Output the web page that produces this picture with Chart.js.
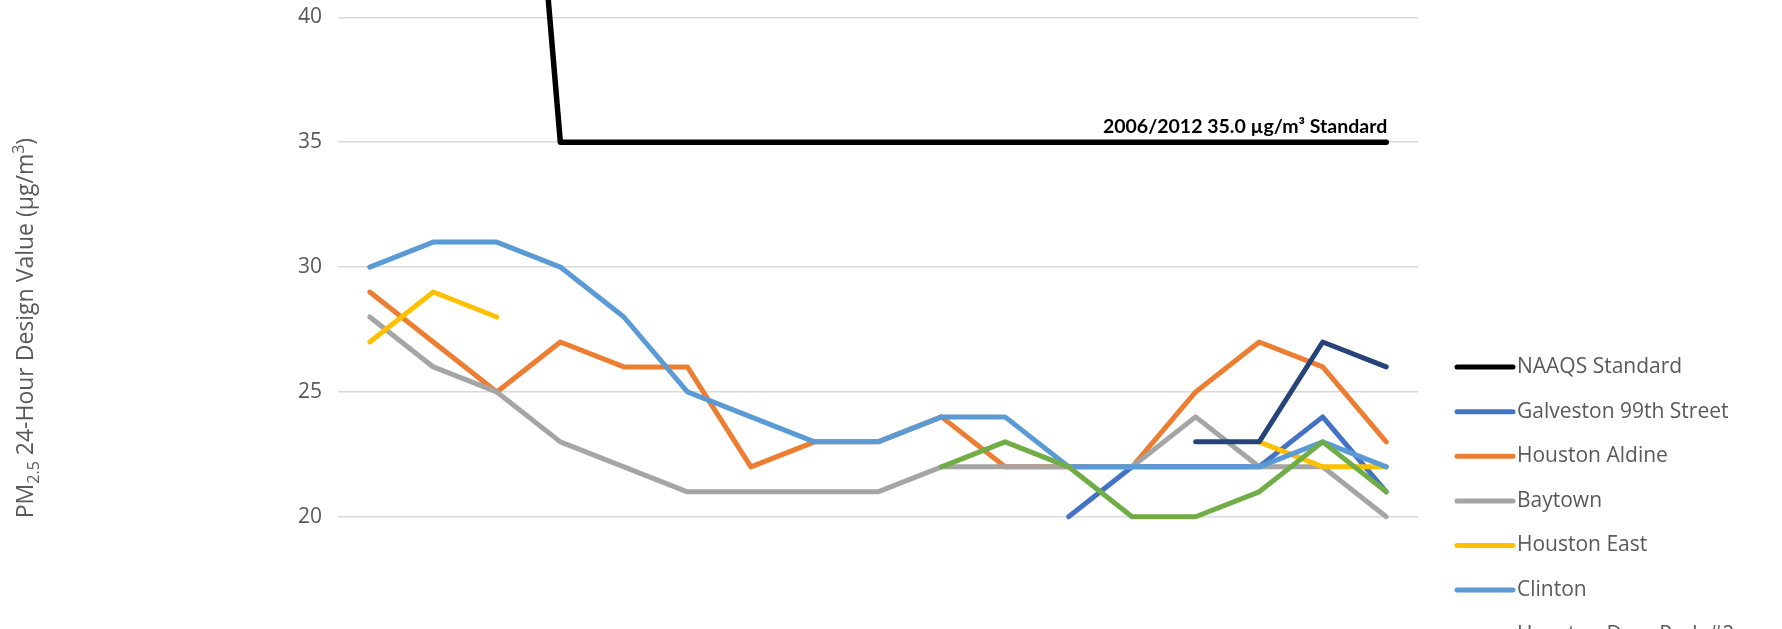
<!DOCTYPE html>
<html>
<head>
<meta charset="utf-8">
<script src="https://cdn.jsdelivr.net/npm/chart.js@4.4.1/dist/chart.umd.min.js"></script>
<style>
  html, body { margin: 0; padding: 0; background: #fff; overflow: hidden; }
  /* the picture only shows a slice of the full chart, so the canvas is taller and shifted up */
  #wrap { position: absolute; left: 0; top: -260px; width: 1782px; }
</style>
</head>
<body>
<div id="wrap"><canvas id="chart" width="1782" height="1110"></canvas></div>
<script>
const years = ['2003', '2004', '2005', '2006', '2007', '2008', '2009', '2010', '2011',
               '2012', '2013', '2014', '2015', '2016', '2017', '2018', '2019'];

const naaqs       = [65, 65, 65, 35, 35, 35, 35, 35, 35, 35, 35, 35, 35, 35, 35, 35, 35];
const galveston   = [null, null, null, null, null, null, null, null, null, null, null, 20, 22, 22, 22, 24, 21];
const aldine      = [29, 27, 25, 27, 26, 26, 22, 23, 23, 24, 22, 22, 22, 25, 27, 26, 23];
const baytown     = [28, 26, 25, 23, 22, 21, 21, 21, 21, 22, 22, 22, 22, 24, 22, 22, 20];
const houstonEast = [27, 29, 28, null, null, null, null, null, null, null, null, null, null, null, 23, 22, 22];
const clinton     = [30, 31, 31, 30, 28, 25, 24, 23, 23, 24, 24, 22, 22, 22, 22, 23, 22];
const deerPark    = [null, null, null, null, null, null, null, null, null, 22, 23, 22, 20, 20, 21, 23, 21];
const northLoop   = [null, null, null, null, null, null, null, null, null, null, null, null, null, 23, 23, 27, 26];

const seriesNames = ['NAAQS Standard', 'Galveston 99th Street', 'Houston Aldine', 'Baytown',
                     'Houston East', 'Clinton', 'Houston Deer Park #2', 'Houston North Loop'];
const seriesData = [naaqs, galveston, aldine, baytown, houstonEast, clinton, deerPark, northLoop];
const seriesColors = ['#000000', '#4472C4', '#ED7D31', '#A5A5A5', '#FFC000', '#5B9BD5', '#70AD47', '#264478'];

const yTicks = [10, 15, 20, 25, 30, 35, 40, 45, 50];
const standardLabel = '2006/2012 35.0 µg/m³ Standard';
const yTitleParts = [
  { text: 'PM', small: false, shift: 0 },
  { text: '2.5', small: true, shift: 6 },
  { text: ' 24-Hour Design Value (µg/m', small: false, shift: 0 },
  { text: '3', small: true, shift: -9 },
  { text: ')', small: false, shift: 0 }
];

const grey = '#595959';

// y title (with sub/superscript), the standard's data label and the legend on the right
const extras = {
  id: 'extras',
  afterDraw(chart) {
    const ctx = chart.ctx;
    const area = chart.chartArea;
    const xs = chart.scales.x;
    const ys = chart.scales.y;

    ctx.save();
    const last = naaqs.length - 1;
    ctx.font = 'bold 19.5px Lato';
    ctx.fillStyle = '#000';
    ctx.textAlign = 'right';
    ctx.textBaseline = 'alphabetic';
    ctx.fillText(standardLabel, xs.getPixelForValue(last) + 1, ys.getPixelForValue(naaqs[last]) - 9);
    ctx.restore();

    // axis title, rotated
    ctx.save();
    const big = '23px "Open Sans"';
    const small = '16px "Open Sans"';
    let total = 0;
    yTitleParts.forEach(p => {
      ctx.font = p.small ? small : big;
      total += ctx.measureText(p.text).width;
    });
    ctx.translate(33, (area.top + area.bottom) / 2 + 61);
    ctx.rotate(-Math.PI / 2);
    ctx.fillStyle = grey;
    ctx.textAlign = 'left';
    ctx.textBaseline = 'alphabetic';
    let x = -total / 2;
    yTitleParts.forEach(p => {
      ctx.font = p.small ? small : big;
      ctx.fillText(p.text, x, p.shift);
      x += ctx.measureText(p.text).width;
    });
    ctx.restore();

    // legend
    ctx.save();
    const lx = area.right + 39;
    chart.data.datasets.forEach((ds, i) => {
      const y = area.top + 599.5 + i * 44.6;
      ctx.strokeStyle = ds.borderColor;
      ctx.lineWidth = 5;
      ctx.lineCap = 'round';
      ctx.beginPath();
      ctx.moveTo(lx, y);
      ctx.lineTo(lx + 56, y);
      ctx.stroke();
      ctx.font = '21px "Open Sans"';
      ctx.fillStyle = grey;
      ctx.textAlign = 'left';
      ctx.textBaseline = 'middle';
      ctx.fillText(ds.label, lx + 60, y);
    });
    ctx.restore();
  }
};

const datasets = seriesNames.map((name, i) => ({
  label: name,
  data: seriesData[i],
  borderColor: seriesColors[i],
  backgroundColor: seriesColors[i],
  borderWidth: i === 0 ? 5.5 : 5,
  borderCapStyle: 'round',
  borderJoinStyle: 'round',
  pointRadius: 0,
  pointHoverRadius: 0,
  tension: 0,
  spanGaps: false,
  order: seriesNames.length - i
}));

const chart = new Chart(document.getElementById('chart'), {
  type: 'line',
  data: { labels: years, datasets: datasets },
  options: {
    responsive: false,
    animation: false,
    layout: { padding: { left: 0, right: 364, top: 1.5, bottom: 0 } },
    plugins: {
      legend: { display: false },
      tooltip: { enabled: false }
    },
    scales: {
      x: {
        offset: true,
        grid: { display: false },
        border: { display: true, color: '#D9D9D9', width: 1.5 },
        ticks: { color: grey, font: { family: 'Open Sans', size: 21 } },
        afterFit(scale) { scale.height = 82.5; }
      },
      y: {
        min: yTicks[0],
        max: yTicks[yTicks.length - 1],
        afterBuildTicks(scale) { scale.ticks = yTicks.map(v => ({ value: v })); },
        ticks: { color: grey, padding: 16, font: { family: 'Open Sans', size: 21 } },
        grid: { color: '#D9D9D9', lineWidth: 1.5, drawTicks: false },
        border: { display: false },
        afterFit(scale) { scale.width = 338; }
      }
    }
  },
  plugins: [extras]
});

// 25 px per unit on the value axis, then slide the canvas so the 40 line sits where the crop has it
const top0 = chart.chartArea.top;
chart.resize(1782, Math.round(top0 + 1000 + 82.5));
document.getElementById('wrap').style.top = (17.5 - chart.scales.y.getPixelForValue(40)) + 'px';
</script>
</body>
</html>
